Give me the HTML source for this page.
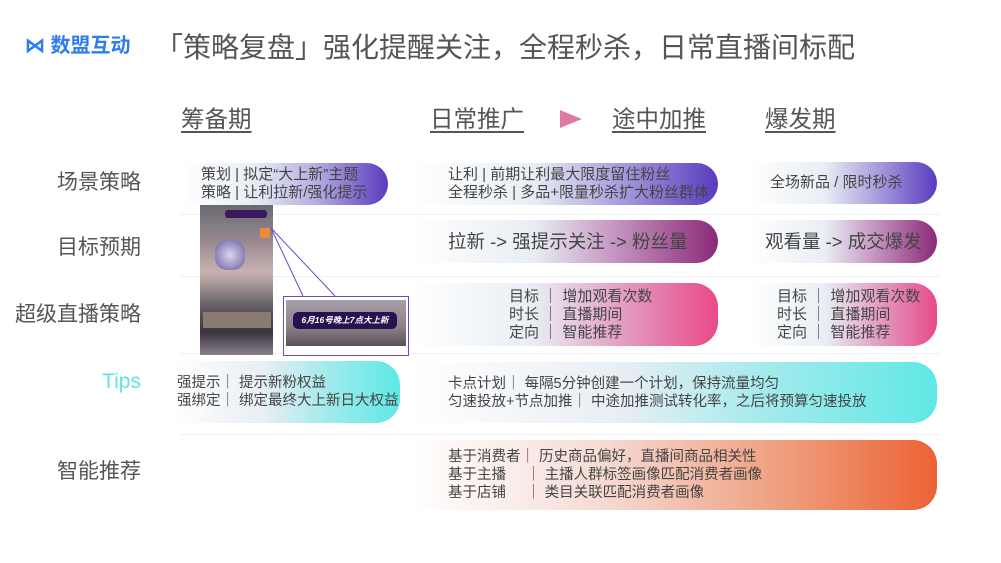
<!DOCTYPE html>
<html><head><meta charset="utf-8"><style>
*{margin:0;padding:0;box-sizing:border-box}
body{width:1001px;height:563px;background:#fff;position:relative;overflow:hidden;font-family:"Liberation Sans","Noto Sans CJK SC",sans-serif;color:#444}
.a{position:absolute}
.lbl{position:absolute;right:860px;font-size:21px;color:#555;white-space:nowrap;line-height:24px}
.hd{position:absolute;font-size:23.5px;color:#555;text-decoration:underline;text-underline-offset:4px;line-height:26px;white-space:nowrap}
.pill{position:absolute;border-radius:0 24px 24px 0;font-size:15px;line-height:18px;color:#444;white-space:nowrap;display:flex;flex-direction:column;justify-content:center}
.line{position:absolute;height:1px;background:#f0f0f3;left:180px;width:760px}
</style></head><body>
<div class="a" style="left:25px;top:35px;font-size:20px;font-weight:bold;color:#2f7bf0;line-height:22px;white-space:nowrap">⋈ 数盟互动</div>
<div class="a" style="left:155px;top:30px;font-size:28px;color:#555;line-height:36px;white-space:nowrap">「策略复盘」强化提醒关注，全程秒杀，日常直播间标配</div>

<div class="hd" style="left:181px;top:106px">筹备期</div>
<div class="hd" style="left:430px;top:106px">日常推广</div>
<div class="a" style="left:560px;top:110px;width:0;height:0;border-left:22px solid #e07aa0;border-top:9px solid transparent;border-bottom:9px solid transparent"></div>
<div class="hd" style="left:612px;top:106px">途中加推</div>
<div class="hd" style="left:765px;top:106px">爆发期</div>

<div class="lbl" style="top:171px">场景策略</div>
<div class="lbl" style="top:236px">目标预期</div>
<div class="lbl" style="top:303px">超级直播策略</div>
<div class="lbl" style="top:370px;color:#5fe3e8">Tips</div>
<div class="lbl" style="top:460px">智能推荐</div>

<div class="line" style="top:214px"></div>
<div class="line" style="top:276px"></div>
<div class="line" style="top:353px"></div>
<div class="line" style="top:434px"></div>

<div class="pill" style="left:180px;top:163px;width:208px;height:42px;padding-left:21px;background:linear-gradient(90deg,#fff 0%,#e8eef4 35%,#b7aee0 65%,#5a3bbf 100%)">策划 | 拟定“大上新”主题<br>策略 | 让利拉新/强化提示</div>
<div class="pill" style="left:410px;top:163px;width:308px;height:42px;padding-left:38px;background:linear-gradient(90deg,#fff 0%,#e8eef4 40%,#b0a6df 65%,#5a3bbf 100%)">让利 | 前期让利最大限度留住粉丝<br>全程秒杀 | 多品+限量秒杀扩大粉丝群体</div>
<div class="pill" style="left:750px;top:162px;width:187px;height:42px;padding-left:20px;background:linear-gradient(90deg,#fff 0%,#e8eef4 40%,#b0a6df 65%,#5a3bbf 100%)">全场新品 / 限时秒杀</div>

<div class="pill" style="left:410px;top:220px;width:308px;height:43px;padding-left:38px;font-size:18.5px;background:linear-gradient(90deg,#fff 0%,#e8eef4 40%,#c79ac4 65%,#8b2a78 100%)">拉新 -&gt; 强提示关注 -&gt; 粉丝量</div>
<div class="pill" style="left:750px;top:220px;width:187px;height:43px;padding-left:15px;font-size:18.5px;background:linear-gradient(90deg,#fff 0%,#e8eef4 40%,#c79ac4 65%,#8b2a78 100%)">观看量 -&gt; 成交爆发</div>

<div class="pill" style="left:410px;top:283px;width:308px;height:63px;padding-left:99px;background:linear-gradient(90deg,#fff 0%,#e8eef4 40%,#e39ac0 70%,#e84a88 100%)">目标 ｜ 增加观看次数<br>时长 ｜ 直播期间<br>定向 ｜ 智能推荐</div>
<div class="pill" style="left:750px;top:283px;width:187px;height:63px;padding-left:27px;background:linear-gradient(90deg,#fff 0%,#e8eef4 40%,#e39ac0 70%,#e84a88 100%)">目标 ｜ 增加观看次数<br>时长 ｜ 直播期间<br>定向 ｜ 智能推荐</div>

<div class="pill" style="left:172px;top:361px;width:228px;height:62px;padding-left:5px;font-size:14.5px;background:linear-gradient(90deg,#fff 0%,#e8eef4 40%,#9eeaec 70%,#5ee8e6 100%)">强提示｜ 提示新粉权益<br>强绑定｜ 绑定最终大上新日大权益</div>
<div class="pill" style="left:410px;top:362px;width:527px;height:61px;padding-left:38px;font-size:14.5px;background:linear-gradient(90deg,#fff 0%,#e8eef4 40%,#9eeaec 70%,#5ee8e6 100%)">卡点计划｜ 每隔5分钟创建一个计划，保持流量均匀<br>匀速投放+节点加推｜ 中途加推测试转化率，之后将预算匀速投放</div>

<div class="pill" style="left:410px;top:440px;width:527px;height:70px;padding-left:38px;font-size:14.5px;background:linear-gradient(90deg,#fff 0%,#f6ddd6 35%,#efa080 70%,#ec6234 100%)">基于消费者｜ 历史商品偏好，直播间商品相关性<br>基于主播&nbsp;&nbsp;&nbsp;&nbsp;&nbsp;｜ 主播人群标签画像匹配消费者画像<br>基于店铺&nbsp;&nbsp;&nbsp;&nbsp;&nbsp;｜ 类目关联匹配消费者画像</div>

<!-- phone screenshot -->
<div class="a" style="left:200px;top:205px;width:73px;height:150px;background:linear-gradient(180deg,#6a6a72 0%,#9a8a90 25%,#c8b2b0 45%,#5a5560 70%,#3a3540 85%,#8a8088 100%)"></div>
<div class="a" style="left:225px;top:210px;width:42px;height:8px;background:#3a1a5a;border-radius:3px"></div>
<div class="a" style="left:215px;top:240px;width:30px;height:30px;background:radial-gradient(#d8d8ee,#6a5aa0);border-radius:40%"></div>
<div class="a" style="left:203px;top:312px;width:68px;height:16px;background:#8a7a70"></div>
<div class="a" style="left:260px;top:228px;width:10px;height:10px;background:#f08a3a"></div>
<svg class="a" style="left:0;top:0" width="1001" height="563"><polyline points="271,228 303,296" stroke="#6a4ad0" fill="none"/><polyline points="271,228 335,296" stroke="#6a4ad0" fill="none"/></svg>
<div class="a" style="left:283px;top:296px;width:126px;height:60px;border:1.5px solid #6a4ad0;background:#fff"></div>
<div class="a" style="left:286px;top:300px;width:120px;height:46px;background:linear-gradient(180deg,#a8a0a8,#8a8088 60%,#5a5058)"></div>
<div class="a" style="left:293px;top:312px;width:104px;height:17px;background:#2a1050;border-radius:5px;color:#fff;font-size:8.5px;font-weight:bold;font-style:italic;line-height:17px;text-align:center;white-space:nowrap">6月16号晚上7点大上新</div>
</body></html>
